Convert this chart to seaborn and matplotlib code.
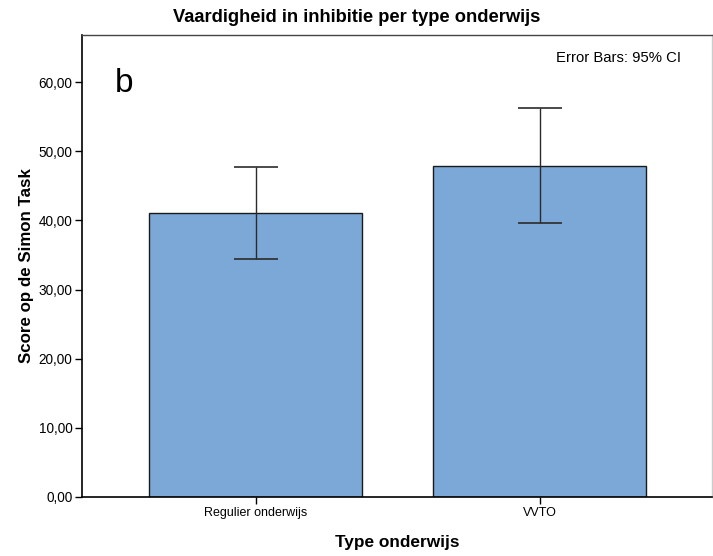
import matplotlib
matplotlib.use("Agg")
import matplotlib.pyplot as plt
import seaborn as sns
import pandas as pd

categories = ["Regulier onderwijs", "VVTO"]
means = [41.05, 47.85]
ci_low = [34.4, 39.6]
ci_high = [47.7, 56.2]
yticks = [0, 10, 20, 30, 40, 50, 60]

sns.set_theme(style="white")
plt.rcParams['font.family'] = ['Liberation Sans', 'DejaVu Sans']
plt.rcParams['text.color'] = 'black'
plt.rcParams['axes.labelcolor'] = 'black'

fig = plt.figure(figsize=(7.13, 5.56), dpi=100)
ax = fig.add_axes([82/713, 59/556, 630/713, 462/556])

df = pd.DataFrame({"type": categories, "score": means})
sns.barplot(data=df, x="type", y="score", ax=ax, color="#7ba8d6",
            saturation=1, width=0.75, edgecolor="#1a1a1a", linewidth=1,
            errorbar=None)

xs = list(range(len(categories)))
lower = [m - l for m, l in zip(means, ci_low)]
upper = [h - m for m, h in zip(means, ci_high)]
ax.errorbar(xs, means, yerr=[lower, upper], fmt="none", ecolor="#2b2b2b",
            elinewidth=1, capsize=15.5, capthick=1.2)

ax.set_ylim(0, 66.8)
ax.set_xlim(-0.611, 1.607)
ax.set_yticks(yticks)
ax.set_yticklabels([f"{v:.2f}".replace(".", ",") for v in yticks], fontsize=9.8)
ax.set_xticks(xs)
ax.set_xticklabels(categories, fontsize=9)
ax.tick_params(axis="both", which="both", direction="out", length=5, width=1,
               color="black", left=True, bottom=True, pad=2, labelcolor="black")

for side in ["left", "bottom"]:
    ax.spines[side].set_color("black")
    ax.spines[side].set_linewidth(1.2)
ax.spines["top"].set_color("#444444")
ax.spines["top"].set_linewidth(1)
ax.spines["right"].set_color("#cccccc")
ax.spines["right"].set_linewidth(1)

ax.set_xlabel("Type onderwijs", fontsize=12.4, fontweight="bold", labelpad=11.5)
ax.set_ylabel("Score op de Simon Task", fontsize=12.2, fontweight="bold", labelpad=3)

fig.text(0.5, 1 - 17/556, "Vaardigheid in inhibitie per type onderwijs",
         ha="center", va="center", fontsize=13.2, fontweight="bold", color="black")

ax.text(115/713, 1 - 83/556, "b", transform=fig.transFigure, fontsize=24,
        ha="left", va="center", color="black")
ax.text(681/713, 1 - 58/556, "Error Bars: 95% CI", transform=fig.transFigure,
        fontsize=10.7, ha="right", va="center", color="black")

fig.savefig("out.png", dpi=100)
